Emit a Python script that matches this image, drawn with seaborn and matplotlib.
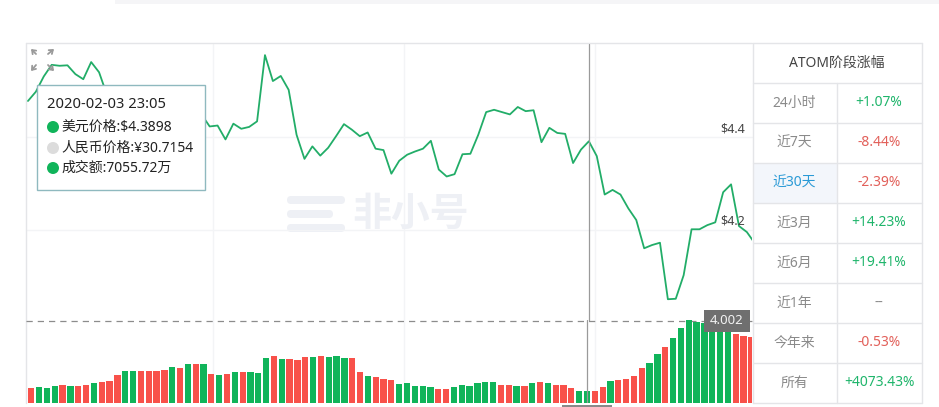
import pandas as pd
import seaborn as sns
import matplotlib.pyplot as plt
from matplotlib.patches import FancyBboxPatch, Rectangle, Circle

price = [4.477, 4.497, 4.530, 4.555, 4.553, 4.554, 4.535, 4.524, 4.561, 4.539,
         4.490, 4.471, 4.458, 4.469, 4.454, 4.441, 4.458, 4.447, 4.432, 4.441,
         4.454, 4.462, 4.447, 4.422, 4.424, 4.394, 4.428, 4.417, 4.421, 4.433,
         4.576, 4.520, 4.531, 4.501, 4.404, 4.352, 4.379, 4.359, 4.376, 4.401,
         4.427, 4.415, 4.401, 4.409, 4.374, 4.371, 4.320, 4.348, 4.361, 4.368,
         4.374, 4.391, 4.329, 4.314, 4.319, 4.362, 4.363, 4.404, 4.453, 4.458,
         4.453, 4.448, 4.464, 4.455, 4.457, 4.388, 4.419, 4.408, 4.406, 4.343,
         4.372, 4.390, 4.358, 4.275, 4.285, 4.275, 4.245, 4.220, 4.159, 4.166,
         4.171, 4.049, 4.050, 4.101, 4.200, 4.200, 4.209, 4.215, 4.280, 4.297,
         4.207, 4.194, 4.170]

# no volume axis in the picture, so the scale is only relative (tooltip says ~7055 at the cursor)
volume = [9000, 9400, 9000, 10000, 10600, 10400, 10000, 10600, 12000, 12400,
          13000, 17000, 19000, 19200, 19400, 19400, 19400, 20000, 21400, 20800,
          23200, 23600, 23200, 17600, 17000, 17400, 18400, 18400, 18400, 17800,
          26800, 28200, 26600, 26600, 25600, 27800, 27800, 28400, 27600, 28000,
          27200, 26800, 18800, 16200, 15800, 14200, 13800, 11200, 11800, 10000,
          10200, 9800, 8600, 8200, 9400, 10800, 10400, 11800, 12800, 12400,
          11000, 10600, 10000, 10400, 12000, 12800, 11800, 10600, 10600, 9200,
          7400, 7200, 7400, 9800, 13200, 13600, 14600, 16000, 21000, 23800,
          29200, 33600, 39200, 44800, 49600, 48600, 48000, 47000, 46000, 47000,
          41200, 40000, 39600]

# g = green bar, r = red bar
sides = list("rgggrgrrgrr" "rgg" "rrrr" "grgrg" "rgrg" "rgg" "grgrr"
             "rgrggg" "rr" "grrr" "ggggg" "rr" "gggggg" "rrgrgrgrrr" "ggr"
             "rgrrrr" "gg" "r" "gggggggg" "rrr")

periods = ["24小时", "近7天", "近30天", "近3月", "近6月", "近1年", "今年来", "所有"]
changes = ["+1.07%", "-8.44%", "-2.39%", "+14.23%", "+19.41%", "--", "-0.53%", "+4073.43%"]

tip_date = "2020-02-03 23:05"
tip_rows = ["美元价格:$4.3898", "人民币价格:¥30.7154", "成交额:7055.72万"]
cursor = 71

GREEN = "#10b45a"
RED = "#f8514a"
GRID = "#f3f4f6"
BORDER = "#e4e5e8"

sns.set_theme(style="white")
plt.rcParams['font.family'] = ['Noto Sans', 'Noto Sans CJK SC']

W, H = 939, 407
fig = plt.figure(figsize=(W / 100, H / 100), dpi=100, facecolor="white")


def pixel_axes(left, top, right, bottom, z):
    a = fig.add_axes([left / W, 1 - bottom / H, (right - left) / W, (bottom - top) / H], zorder=z)
    a.patch.set_alpha(0)
    return a


back = pixel_axes(0, 0, W, H, 0)
back.set_xlim(0, W)
back.set_ylim(H, 0)
back.axis("off")
back.add_patch(Rectangle((115, 0), 824, 4, color="#f5f5f7", lw=0))
back.add_patch(Rectangle((562, 405), 50, 2, color="#8a8a8a", lw=0))
for x in (213, 404, 595):
    back.plot([x, x], [44, 403], color=GRID, lw=1)
for y in (137, 230):
    back.plot([26, 752], [y, y], color=GRID, lw=1)
back.plot([26, 26], [43, 403], color=BORDER, lw=1)
back.plot([26, 752], [43, 43], color=BORDER, lw=1)
# watermark
for y, w in ((196, 58), (210, 46), (224, 58)):
    back.add_patch(FancyBboxPatch((287, y), w, 8, boxstyle="round,pad=0,rounding_size=4",
                                  color="#eef0f5", lw=0))
back.text(352, 216, "非小号", fontsize=28, fontweight="bold", color="#eef0f5",
          va="center", ha="left")

# price line
ax = pixel_axes(26, 44, 752, 321, 1)
df_price = pd.DataFrame({"idx": range(len(price)), "price": price})
sns.lineplot(data=df_price, x="idx", y="price", color="#22ad68", lw=1.3, ax=ax)
ax.set_xlim(-0.25, 91.65)
ax.set_ylim(4.002, 4.600)
ax.axvline(cursor, color="#9a9a9a", lw=0.9)
ax.axhline(4.002, color="#8c8c8c", lw=0.9, ls=(0, (5, 4)), clip_on=False)
ax.axis("off")

# volume bars
ax2 = pixel_axes(26, 320, 752, 403, 1)
df_vol = pd.DataFrame({"idx": range(len(volume)), "volume": volume, "side": sides})
sns.barplot(data=df_vol, x="idx", y="volume", hue="side", palette={"g": GREEN, "r": RED},
            dodge=False, legend=False, width=0.8, saturation=1, linewidth=0, ax=ax2)
ax2.set_xlim(-0.68, 92.08)
ax2.set_ylim(0, 49800)
ax2.axvline(cursor, color="#9a9a9a", lw=0.9)
ax2.axis("off")

# everything on top, in pixels
top = pixel_axes(0, 0, W, H, 3)
top.set_xlim(0, W)
top.set_ylim(H, 0)
top.axis("off")

top.text(745, 129, "$4.4", fontsize=9, color="#444444", ha="right", va="center")
top.text(745, 221, "$4.2", fontsize=9, color="#444444", ha="right", va="center")
top.add_patch(Rectangle((704, 310), 46, 22, color="#6f6f6f", lw=0))
top.text(727, 321, "4.002", fontsize=9.5, color="#f2f2f2", ha="center", va="center")

# zoom icon
for x0, y0, x1, y1 in ((36, 54, 31, 49), (48, 54, 54, 49), (36, 65, 31, 71), (48, 65, 54, 71)):
    top.annotate("", xy=(x1, y1), xytext=(x0, y0),
                 arrowprops=dict(arrowstyle="->,head_length=0.2,head_width=0.15",
                                 color="#9a9a9a", lw=1.3, shrinkA=0, shrinkB=0))

# tooltip
top.add_patch(Rectangle((36.5, 84.5), 168, 105, fc="white", ec="#8fb9bf", lw=1))
top.text(47, 105, tip_date, fontsize=10.6, color="#222222", va="center")
for y, row, c in zip((127, 148, 168), tip_rows, (GREEN, "#dcdcdc", GREEN)):
    top.add_patch(Circle((53, y), 6, color=c, lw=0))
    top.text(61, y, row, fontsize=10, color="#222222", va="center")

# period table
tx0, tx1, split = 752.5, 921.5, 836.5
row_y = [43 + 40 * i for i in range(10)]
top.add_patch(Rectangle((tx0, row_y[3]), split - tx0, 40, color="#f3f6fb", lw=0))
for y in row_y:
    top.plot([tx0, tx1], [y, y], color=BORDER, lw=1)
top.plot([tx0, tx0], [43, 403], color=BORDER, lw=1)
top.plot([tx1, tx1], [43, 403], color=BORDER, lw=1)
top.plot([split, split], [83, 403], color=BORDER, lw=1)
top.text((tx0 + tx1) / 2, 63, "ATOM阶段涨幅", fontsize=10, color="#444444", ha="center", va="center")
for i, (p, c) in enumerate(zip(periods, changes)):
    y = row_y[i + 1] + 20
    top.text((tx0 + split) / 2, y, p, fontsize=10, ha="center", va="center",
             color="#2a9ad6" if p == "近30天" else "#8a8a8a")
    col = "#1fb56b" if c.startswith("+") else "#e2605a" if c.startswith("-") and c != "--" else "#8a8a8a"
    top.text((split + tx1) / 2, y, c, fontsize=10, ha="center", va="center", color=col)

fig.savefig("out.png", dpi=100)
